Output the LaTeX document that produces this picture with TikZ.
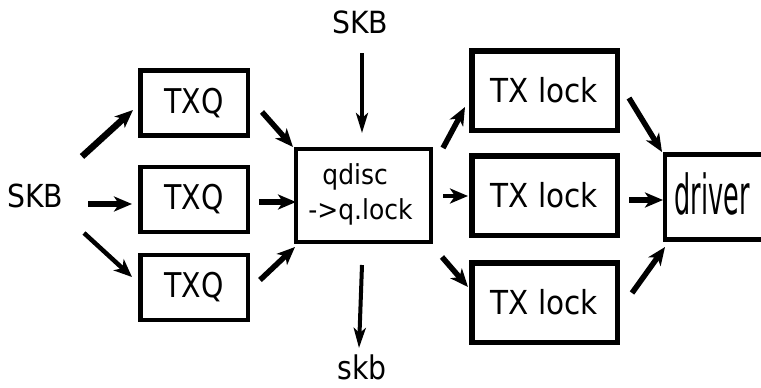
\documentclass[tikz,border=0pt]{standalone}
\usepackage{fontspec}
\setmainfont{DejaVu Sans}
\usetikzlibrary{arrows.meta,calc}

% text drawn slightly taller than wide
\newcommand\vstretch[2]{\scalebox{1}[#1]{#2}}

\tikzset{
  txqbox/.style={draw, line width=4.5pt, inner sep=0pt, minimum width=107.5pt, minimum height=65pt,
    font=\fontsize{28.4}{34}\selectfont},
  qbox/.style={draw, line width=4pt, inner sep=0pt, minimum width=135pt, minimum height=93pt,
    font=\fontsize{25}{30}\selectfont},
  lockbox/.style={draw, line width=5.5pt, inner sep=0pt, minimum width=145.5pt, minimum height=79.5pt,
    font=\fontsize{29.5}{34}\selectfont},
  lbl/.style={inner sep=0pt, font=\fontsize{28.3}{34}\selectfont},
  flow/.style={line width=#1, -{Stealth[length=18pt,width=15pt,inset=5pt]}},
  flow/.default=5pt,
  vflow/.style={line width=3.5pt, -{Stealth[length=20pt,width=12pt,inset=5pt]}},
}

\begin{document}
\begin{tikzpicture}[x=1pt,y=-1pt]
\useasboundingbox (0,0) rectangle (761,388);

% packet sources and sink
\node[lbl] (skbL) at (35,195.5) {\vstretch{1.12}{SKB}};
\node[lbl] (skbT) at (360,22) {\vstretch{1.08}{SKB}};
\node[lbl] (skbB) at (362,367.5) {\vstretch{1.15}{skb}};

% per-queue boxes
\node[txqbox] (txq1) at (194,103) {\vstretch{1.2}{TXQ}};
\node[txqbox] (txq2) at (194,199.5) {\vstretch{1.2}{TXQ}};
\node[txqbox] (txq3) at (194,287.5) {\vstretch{1.2}{TXQ}};

% queueing discipline
\node[qbox] (qdisc) at (363.5,195.5)
  {\vstretch{1.1}{\begin{tabular}{@{}l@{}}\hspace*{14pt}qdisc\\[2pt]->q.lock\end{tabular}}\hspace*{6pt}};

% transmit locks
\node[lockbox] (tx1) at (544.5,90.5) {\vstretch{1.12}{TX lock}};
\node[lockbox] (tx2) at (544.5,195.5) {\vstretch{1.12}{TX lock}};
\node[lockbox] (tx3) at (544.5,302.5) {\vstretch{1.12}{TX lock}};

% driver: box open to the right, text stretched tall
\node[inner sep=0pt, outer sep=0pt, minimum width=98pt, minimum height=90pt,
      text height=38pt, text depth=4pt,
      font=\fontsize{29}{34}\selectfont] (driver) at (712,197)
  {\scalebox{0.88}[1.9]{driver}};
\draw[line width=3.5pt] ($(driver.north west)+(1.75,0)$) -- ($(driver.south west)+(1.75,0)$);
\draw[line width=5pt] ($(driver.north west)+(0,2.5)$) -- ++(140,0);
\draw[line width=5pt] ($(driver.south west)+(0,-2.5)$) -- ++(140,0);

% SKB into the queues
\draw[flow=6.5pt] ($(skbL)+(47,-39)$) -- ($(txq1.west)+(-5,7)$);
\draw[flow=5.5pt] ($(skbL)+(53,8.5)$) -- ($(txq2.west)+(-6,4.5)$);
\draw[flow=4.5pt] ($(skbL)+(49,37.5)$) -- ($(txq3.west)+(-6,-10.5)$);

% queues into qdisc
\draw[flow=5.5pt] ($(txq1.east)+(12,9)$) -- ($(qdisc.north west)+(-1,0)$);
\draw[flow=6.5pt] ($(txq2.east)+(9,2.5)$) -- ($(qdisc.west)+(2,6.5)$);
\draw[flow=5.5pt] ($(txq3.east)+(10,-7.5)$) -- ($(qdisc.south west)+(1,3)$);

% vertical in / out
\draw[vflow] ($(skbT)+(2,31)$) -- ($(qdisc.north)+(-1.5,-14)$);
\draw[vflow, line width=4pt] ($(qdisc.south)+(-1.5,21)$) -- ($(skbB)+(-3,-19.5)$);

% qdisc into the TX locks
\draw[flow=5.5pt] ($(qdisc.north east)+(10,1)$) -- ($(tx1.west)+(-4,16.5)$);
\draw[flow=4.5pt] ($(qdisc.east)+(10,0.5)$) -- ($(tx2.west)+(-1,0.5)$);
\draw[flow=5.5pt] ($(qdisc.south east)+(9,13)$) -- ($(tx3.west)+(-1,-15.5)$);

% TX locks into the driver
\draw[flow=5.5pt] ($(tx1.east)+(9,7.5)$) -- ($(driver.north west)+(-1,0)$);
\draw[flow=6.5pt] ($(tx2.east)+(9,4.5)$) -- ($(driver.west)+(0,3)$);
\draw[flow=5.5pt] ($(tx3.east)+(12,-9.5)$) -- ($(driver.south west)+(2,5)$);
\end{tikzpicture}
\end{document}
